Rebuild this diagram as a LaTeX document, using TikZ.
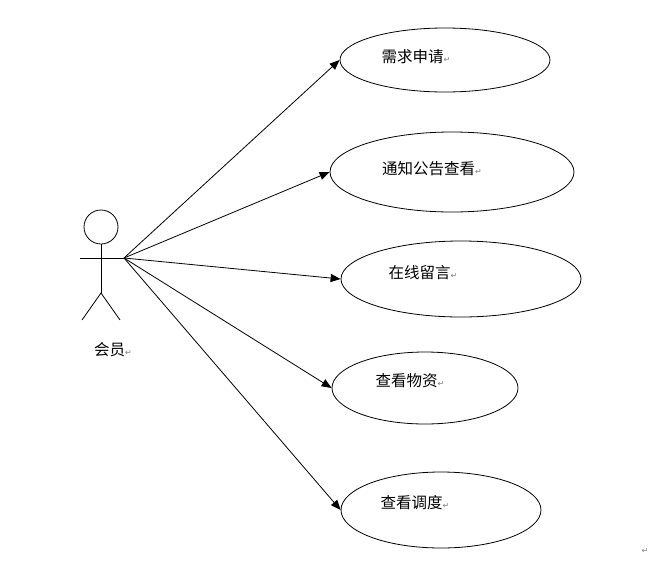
\documentclass[tikz,border=0pt]{standalone}
\usepackage{fontspec}
\newfontfamily\cjk{Noto Sans CJK SC}
\newfontfamily\dv{DejaVu Sans}
\usetikzlibrary{shapes.geometric,arrows.meta}
\newcommand{\pmk}{{\dv\color{gray}\fontsize{8}{8}\selectfont ↵}}
\begin{document}
\begin{tikzpicture}[x=1pt,y=-1pt,
  uc/.style={draw,ellipse,line width=0.8pt,inner sep=0pt},
  lbl/.style={font=\cjk\fontsize{15.5}{17}\selectfont},
  conn/.style={-{Triangle[length=10pt,width=8pt]},line width=0.8pt}]
\useasboundingbox (0,0) rectangle (669,565);
\node[uc,minimum width=210,minimum height=64] (u1) at (445,60) {};
\node[lbl] at (416,57) {需求申请\pmk};
\node[uc,minimum width=244,minimum height=80] (u2) at (452,172) {};
\node[lbl] at (432,169) {通知公告查看\pmk};
\node[uc,minimum width=240,minimum height=76] (u3) at (461,279) {};
\node[lbl] at (423,273) {在线留言\pmk};
\node[uc,minimum width=186,minimum height=72] (u4) at (425,388) {};
\node[lbl] at (410,381) {查看物资\pmk};
\node[uc,minimum width=200,minimum height=76] (u5) at (441,510) {};
\node[lbl] at (415,503) {查看调度\pmk};
\node[draw,circle,minimum size=34,inner sep=0pt,line width=0.8pt] (head) at (101,227) {};
\coordinate (hip) at (101,293);
\coordinate (hand) at (124,258);
\draw[line width=0.8pt] (head.south) -- (hip);
\draw[line width=0.8pt] (80,258) -- (hand);
\coordinate (fl) at (82,320); \coordinate (fr) at (120,320);
\draw[line width=0.8pt] (fl) -- (hip) -- (fr);
\node[lbl] (actor) at (113,350) {会员\pmk};
\foreach \u in {u1,u2,u3,u4,u5} \draw[conn] (hand) -- (\u.west);
\node (pm) at (645,551) {\pmk};
\end{tikzpicture}
\end{document}
